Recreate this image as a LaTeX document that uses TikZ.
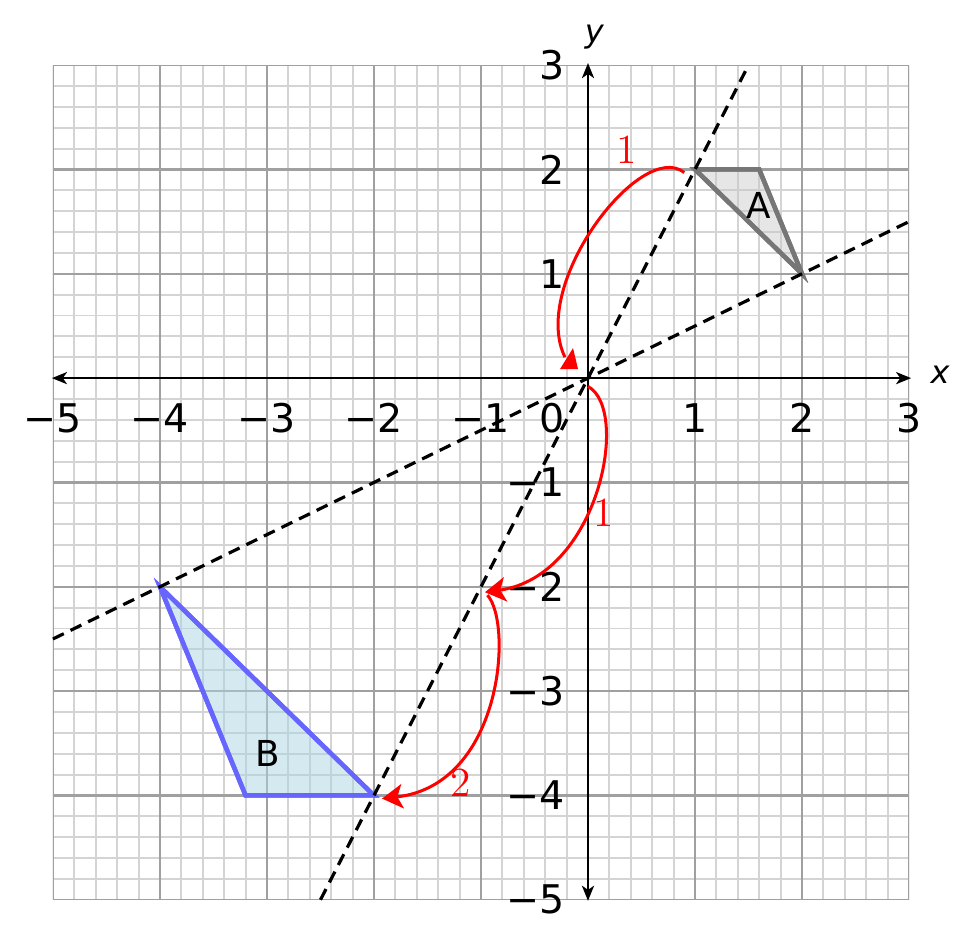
\documentclass[tikz,border=0pt]{standalone}
\usepackage{fontspec}
\newfontfamily\dejavu{DejaVu Sans}
\usetikzlibrary{arrows.meta}
\definecolor{minorgray}{RGB}{212,212,212}
\definecolor{majorgray}{RGB}{160,160,160}
\definecolor{triAstroke}{RGB}{118,118,118}
\definecolor{triAfill}{RGB}{200,200,200}
\definecolor{triBstroke}{RGB}{102,102,255}
\definecolor{triBfill}{RGB}{170,212,226}
\begin{document}
\begin{tikzpicture}[x=1cm,y=0.975cm,
  minorgrid/.style={draw=minorgray, line width=0.5pt},
  majorgrid/.style={draw=majorgray, line width=0.65pt},
  axisline/.style={line width=0.7pt, {Stealth[length=4pt,width=3.2pt,inset=1.1pt]}-{Stealth[length=4pt,width=3.2pt,inset=1.1pt]}},
  dashline/.style={line width=0.85pt, dash pattern=on 3.2pt off 2pt},
  ticklab/.style={font=\dejavu\fontsize{10.5}{12}\selectfont, inner sep=0pt},
  axislab/.style={font=\dejavu\itshape\fontsize{8.5}{10}\selectfont, inner sep=0pt},
  shapelab/.style={font=\dejavu\fontsize{9.5}{11}\selectfont, inner sep=0pt},
  redarc/.style={red, line width=0.8pt},
  redtip/.style={-{Stealth[length=5.5pt,width=6.5pt,inset=1.4pt]}},
  redlab/.style={red, font=\fontsize{11}{13}\selectfont, inner sep=0pt},
  triA/.style={draw=triAstroke, line width=1.2pt, fill=triAfill, fill opacity=0.45},
  triB/.style={draw=triBstroke, line width=1.2pt, fill=triBfill, fill opacity=0.5}
]
\useasboundingbox (-5.495,-5.446) rectangle (3.598,3.624);

% grid
\begin{scope}
\clip (-5,-5) rectangle (3,3);
\foreach \i in {-25,...,15} {
  \draw[minorgrid] (\i/5,-5) -- (\i/5,3);
  \draw[minorgrid] (-5,\i/5) -- (3,\i/5);
}
\foreach \i in {-5,...,3} {
  \draw[majorgrid] (\i,-5) -- (\i,3);
  \draw[majorgrid] (-5,\i) -- (3,\i);
}
\end{scope}

% triangles
\coordinate (A1) at (1,2);
\coordinate (A2) at (1.6,2);
\coordinate (A3) at (2,1);
\coordinate (B1) at (-4,-2);
\coordinate (B2) at (-3.2,-4);
\coordinate (B3) at (-2,-4);
\path[triA] (A1) -- (A2) -- (A3) -- cycle;
\draw[triA, fill opacity=0] (A1) -- (A2) -- (A3) -- cycle;
\path[triB] (B1) -- (B2) -- (B3) -- cycle;
\draw[triB, fill opacity=0] (B1) -- (B2) -- (B3) -- cycle;
\node[shapelab] (labA) at (1.598,1.659) {A};
\node[shapelab] (labB) at (-2.99,-3.595) {B};

% axes
\coordinate (xL) at (-5.01,0);
\coordinate (xR) at (3.02,0);
\coordinate (yB) at (0,-5.01);
\coordinate (yT) at (0,3.02);
\draw[axisline] (xL) -- (xR);
\draw[axisline] (yB) -- (yT);
\node[axislab] (xlab) at (3.29,0.03) {x};
\node[axislab] (ylab) at (0.06,3.27) {y};

% tick labels
\foreach \v/\t/\n in {-5/−5/a,-4/−4/b,-3/−3/c,-2/−2/d,-1/−1/e,1/1/f,2/2/g,3/3/h} {
  \node[ticklab] (xt\n) at (\v,-0.383) {\t};
}
\foreach \v/\t/\n in {-5/−5/a,-4/−4/b,-3/−3/c,-2/−2/d,-1/−1/e,1/1/f,2/2/g,3/3/h} {
  \node[ticklab, anchor=east] (yt\n) at (-0.21,\v) {\t};
}
\node[ticklab, anchor=east] (origin0) at (-0.21,-0.383) {0};

% dashed lines
\coordinate (d1a) at (-2.5,-5);
\coordinate (d1b) at (1.5,3);
\coordinate (d2a) at (-5,-2.5);
\coordinate (d2b) at (3,1.5);
\draw[dashline] (d1a) -- (d1b);
\draw[dashline] (d2a) -- (d2b);

% red arcs
\coordinate (r1s) at (0.9,1.97);
\coordinate (r1e) at (-0.215,0.2);
\draw[redarc] (r1s) .. controls (0.5,2.3) and (-0.55,0.9) .. (r1e);
\fill[red] (-0.262,0.086) -- (-0.093,0.086) -- (-0.140,0.288) -- cycle;

\coordinate (r2s) at (0,-0.08);
\coordinate (r2e) at (-0.963,-2.052);
\draw[redarc, redtip] (r2s) .. controls (0.4,-0.3) and (0.1,-1.9) .. (r2e);

\coordinate (r3s) at (-0.94,-2.08);
\coordinate (r3e) at (-1.925,-4.03);
\draw[redarc, redtip] (r3s) .. controls (-0.7,-2.35) and (-0.8,-3.9) .. (r3e);

\node[redlab] (rl1) at (0.364,2.186) {1};
\node[redlab] (rl2) at (0.150,-1.294) {1};
\node[redlab] (rl3) at (-1.187,-3.883) {2};
\end{tikzpicture}
\end{document}
